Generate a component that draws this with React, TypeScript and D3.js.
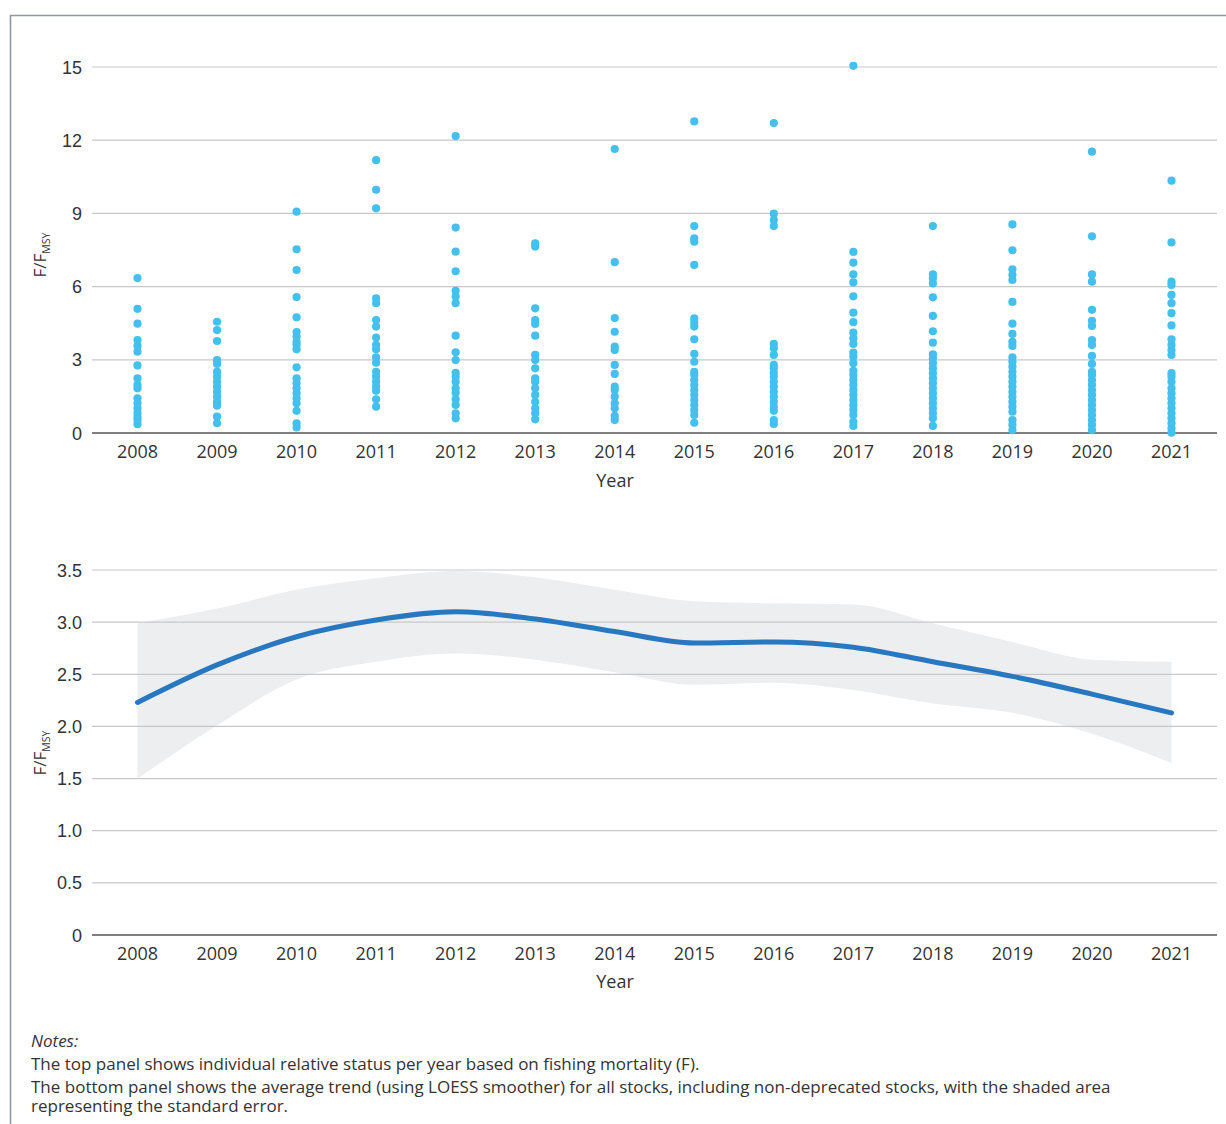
import React from "react";
import * as d3 from "d3";

const years = [2008, 2009, 2010, 2011, 2012, 2013, 2014, 2015, 2016, 2017, 2018, 2019, 2020, 2021];

const values2008 = [6.35, 5.09, 4.48, 3.81, 3.57, 3.33, 2.77, 2.24, 1.97, 1.83, 1.42, 1.22, 1.01, 0.83, 0.67, 0.53, 0.36];
const values2009 = [4.56, 4.22, 3.77, 2.99, 2.83, 2.51, 2.31, 2.1, 1.9, 1.69, 1.49, 1.28, 1.12, 0.67, 0.4];
const values2010 = [9.07, 7.53, 6.68, 5.57, 4.74, 4.14, 3.95, 3.74, 3.61, 3.43, 2.69, 2.24, 2.04, 1.83, 1.63, 1.42, 1.22, 0.91, 0.4, 0.23];
const values2011 = [11.18, 9.97, 9.21, 5.52, 5.32, 4.63, 4.36, 3.91, 3.61, 3.43, 3.1, 2.88, 2.51, 2.31, 2.1, 1.9, 1.73, 1.38, 1.08];
const values2012 = [12.17, 8.42, 7.43, 6.63, 5.83, 5.59, 5.32, 3.99, 3.31, 2.99, 2.47, 2.31, 2.1, 1.83, 1.65, 1.38, 1.15, 0.81, 0.6];
const values2013 = [7.77, 7.64, 5.11, 4.63, 4.47, 3.99, 3.2, 2.99, 2.65, 2.24, 2.1, 1.83, 1.56, 1.28, 1.01, 0.81, 0.56];
const values2014 = [11.64, 7.0, 4.71, 4.15, 3.54, 3.4, 2.79, 2.42, 1.9, 1.76, 1.49, 1.22, 1.01, 0.7, 0.53];
const values2015 = [12.77, 8.48, 7.98, 7.84, 6.89, 4.7, 4.52, 4.36, 3.84, 3.24, 2.92, 2.51, 2.38, 2.17, 1.97, 1.76, 1.56, 1.35, 1.15, 0.94, 0.74, 0.42];
const values2016 = [12.7, 8.99, 8.73, 8.48, 3.65, 3.47, 3.2, 2.79, 2.65, 2.47, 2.31, 2.1, 1.9, 1.69, 1.49, 1.28, 1.08, 0.91, 0.53, 0.37];
const values2017 = [15.05, 7.42, 6.98, 6.5, 6.17, 5.6, 4.93, 4.54, 4.11, 3.88, 3.65, 3.29, 3.13, 2.86, 2.55, 2.38, 2.17, 1.97, 1.76, 1.56, 1.35, 1.15, 0.94, 0.74, 0.46, 0.29];
const values2018 = [8.48, 6.5, 6.34, 6.13, 5.56, 4.8, 4.17, 3.7, 3.22, 3.06, 2.86, 2.65, 2.45, 2.24, 2.04, 1.83, 1.63, 1.42, 1.22, 1.01, 0.81, 0.6, 0.29];
const values2019 = [8.55, 7.49, 6.71, 6.48, 6.27, 5.37, 4.48, 4.06, 3.74, 3.57, 3.1, 2.92, 2.72, 2.51, 2.31, 2.1, 1.9, 1.69, 1.49, 1.28, 1.08, 0.87, 0.53, 0.33, 0.12];
const values2020 = [11.53, 8.06, 6.5, 6.2, 5.05, 4.6, 4.39, 3.81, 3.61, 3.16, 2.83, 2.51, 2.38, 2.17, 1.97, 1.76, 1.56, 1.35, 1.15, 0.94, 0.74, 0.53, 0.33, 0.12];
const values2021 = [10.34, 7.81, 6.2, 6.07, 5.66, 5.32, 4.91, 4.41, 3.84, 3.61, 3.4, 3.2, 2.45, 2.31, 2.1, 1.83, 1.63, 1.42, 1.22, 1.01, 0.81, 0.6, 0.4, 0.19, 0.01];

const valuesByYear = [values2008, values2009, values2010, values2011, values2012, values2013, values2014, values2015, values2016, values2017, values2018, values2019, values2020, values2021];

const trendMean = [2.23, 2.59, 2.86, 3.02, 3.1, 3.03, 2.91, 2.8, 2.81, 2.76, 2.62, 2.48, 2.31, 2.13];
const trendUpper = [2.99, 3.13, 3.31, 3.42, 3.49, 3.43, 3.31, 3.2, 3.18, 3.17, 2.99, 2.81, 2.64, 2.62];
const trendLower = [1.5, 2.01, 2.45, 2.62, 2.7, 2.64, 2.52, 2.4, 2.42, 2.35, 2.22, 2.13, 1.93, 1.65];

const topTicks = [0, 3, 6, 9, 12, 15];
const bottomTicks = [0, 0.5, 1, 1.5, 2, 2.5, 3, 3.5];

const notesTitle = "Notes:";
const notesLines = [
  "The top panel shows individual relative status per year based on fishing mortality (F).",
  "The bottom panel shows the average trend (using LOESS smoother) for all stocks, including non-deprecated stocks, with the shaded area",
  "representing the standard error.",
];

const W = 1226;
const H = 1124;
const gridX0 = 92;
const gridX1 = 1217;
const tickFont = "'Liberation Sans', Arial, sans-serif";
const labelFont = "'Open Sans', 'Noto Sans', sans-serif";

function YTitle({ x, y }: { x: number; y: number }) {
  return (
    <text
      transform={`translate(${x},${y}) rotate(-90)`}
      textAnchor="middle"
      fontFamily={labelFont}
      fontSize={17}
      fill="#333"
    >
      F/F
      <tspan fontSize={10.5} dy={4}>MSY</tspan>
    </text>
  );
}

function Panel({
  yScale,
  ticks,
  fmt,
  axisY,
}: {
  yScale: d3.ScaleLinear<number, number>;
  ticks: number[];
  fmt: (v: number) => string;
  axisY: number;
}) {
  return (
    <g>
      {ticks.map((t) =>
        t === 0 ? null : (
          <line key={t} x1={gridX0} x2={gridX1} y1={yScale(t)} y2={yScale(t)} stroke="#c8c8cb" strokeWidth={1.2} />
        )
      )}
      {ticks.map((t) => (
        <text
          key={"l" + t}
          x={82}
          y={yScale(t) + 6.5}
          textAnchor="end"
          fontFamily={tickFont}
          fontSize={18}
          fill="#333"
        >
          {fmt(t)}
        </text>
      ))}
      <line x1={gridX0} x2={gridX1} y1={axisY} y2={axisY} stroke="#555" strokeWidth={1.4} />
    </g>
  );
}

export default function App() {
  const x = d3.scaleLinear().domain([2008, 2021]).range([137.5, 1171.5]);
  const yTop = d3.scaleLinear().domain([0, 15]).range([433, 67]);
  const yBot = d3.scaleLinear().domain([0, 3.5]).range([935, 570]);

  const area = d3
    .area<number>()
    .x((_, i) => x(years[i]))
    .y0((_, i) => yBot(trendLower[i]))
    .y1((_, i) => yBot(trendUpper[i]))
    .curve(d3.curveMonotoneX);
  const line = d3
    .line<number>()
    .x((_, i) => x(years[i]))
    .y((d) => yBot(d))
    .curve(d3.curveMonotoneX);

  return (
    <svg width={W} height={H} style={{ position: "absolute", left: 0, top: 0, background: "#fff" }}>
      <rect x={0} y={0} width={W} height={H} fill="#fff" />
      {/* frame */}
      <line x1={10} x2={W} y1={15.5} y2={15.5} stroke="#8c9aa6" strokeWidth={1.6} />
      <line x1={10.5} x2={10.5} y1={15} y2={H} stroke="#8c9aa6" strokeWidth={1.6} />

      {/* top panel */}
      <Panel yScale={yTop} ticks={topTicks} fmt={(v) => String(v)} axisY={433} />
      {valuesByYear.map((vals, i) =>
        vals.map((v, j) => <circle key={i + "-" + j} cx={x(years[i])} cy={yTop(v)} r={4.1} fill="#43c0ee" />)
      )}
      {years.map((yr) => (
        <text key={"tx" + yr} x={x(yr)} y={458} textAnchor="middle" fontFamily={labelFont} fontSize={18} fill="#333">
          {yr}
        </text>
      ))}
      <text x={615} y={487} textAnchor="middle" fontFamily={labelFont} fontSize={18} fill="#333">
        Year
      </text>
      <YTitle x={46} y={255} />

      {/* bottom panel */}
      <path d={area(trendMean) || ""} fill="#edeef0" />
      <Panel yScale={yBot} ticks={bottomTicks} fmt={(v) => (v === 0 ? "0" : v.toFixed(1))} axisY={935} />
      <path d={line(trendMean) || ""} fill="none" stroke="#2777c1" strokeWidth={5} strokeLinecap="round" />
      {years.map((yr) => (
        <text key={"bx" + yr} x={x(yr)} y={960} textAnchor="middle" fontFamily={labelFont} fontSize={18} fill="#333">
          {yr}
        </text>
      ))}
      <text x={615} y={988} textAnchor="middle" fontFamily={labelFont} fontSize={18} fill="#333">
        Year
      </text>
      <YTitle x={46} y={753} />

      {/* notes */}
      <text x={31} y={1047} fontFamily={labelFont} fontSize={17} fontStyle="italic" fill="#333">
        {notesTitle}
      </text>
      {notesLines.map((l, i) => (
        <text key={i} x={31} y={[1070, 1093, 1112][i]} fontFamily={labelFont} fontSize={17} fill="#333">
          {l}
        </text>
      ))}
    </svg>
  );
}
